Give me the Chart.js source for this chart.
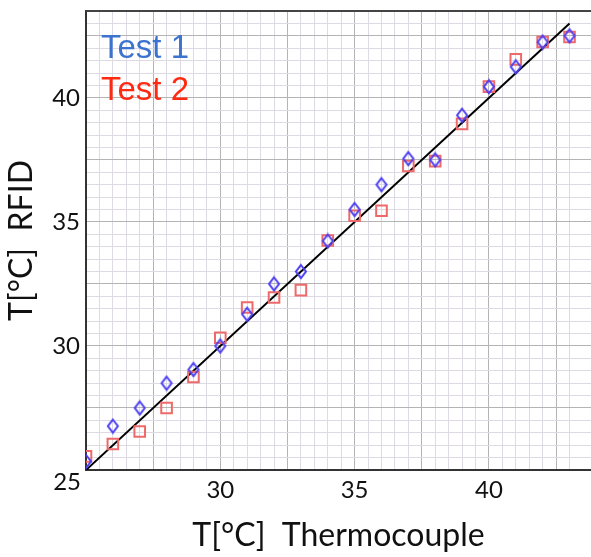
<!DOCTYPE html>
<html>
<head>
<meta charset="utf-8">
<script src="https://cdn.jsdelivr.net/npm/chart.js@4.4.1/dist/chart.umd.min.js"></script>
<style>
  html, body { margin: 0; padding: 0; background: #fff; overflow: hidden; }
  #wrap { width: 591px; height: 557px; position: relative; }
</style>
</head>
<body>
<div id="wrap"><canvas id="chart"></canvas></div>
<script>
// thermocouple readings (x) and RFID readings (y)
const thermocouple = [25, 26, 27, 28, 29, 30, 31, 32, 33, 34, 35, 36, 37, 38, 39, 40, 41, 42, 43];
const test1 = [25.35, 26.77, 27.5, 28.5, 29.05, 30.0, 31.28, 32.5, 33.0, 34.23, 35.5, 36.5, 37.55, 37.5, 39.3, 40.45, 41.25, 42.25, 42.5];
const test2 = [25.55, 26.05, 26.55, 27.5, 28.75, 30.33, 31.55, 31.95, 32.25, 34.25, 35.25, 35.45, 37.25, 37.45, 38.95, 40.45, 41.55, 42.25, 42.45];
const seriesNames = ['Test 1', 'Test 2'];
const idealLine = [25, 43];
const tickLabels = [25, 30, 35, 40];

const tickFont = { family: 'Lato', size: 24 };
const titleFont = { family: 'Lato', size: 32 };

function diamond(w, h, color) {
  const c = document.createElement('canvas');
  c.width = w + 4; c.height = h + 4;
  const g = c.getContext('2d');
  g.strokeStyle = color;
  g.lineWidth = 2;
  g.beginPath();
  g.moveTo(c.width / 2, 2);
  g.lineTo(c.width - 2, c.height / 2);
  g.lineTo(c.width / 2, c.height - 2);
  g.lineTo(2, c.height / 2);
  g.closePath();
  g.stroke();
  return c;
}

const pts = (ys) => thermocouple.map((x, i) => ({x: x, y: ys[i]}));

function isMult(v, m) {
  const r = v / m;
  return Math.abs(r - Math.round(r)) < 1e-6;
}

const gridColor = (ctx) => {
  const v = ctx.tick ? ctx.tick.value : 0;
  return isMult(v, 2.5) ? '#b4b4b4' : '#dedae3';
};

const overlay = {
  id: 'overlay',
  afterDraw(chart) {
    const c = chart.ctx;
    const a = chart.chartArea;
    c.save();
    // top frame line
    c.strokeStyle = '#444';
    c.lineWidth = 2;
    c.beginPath();
    c.moveTo(a.left, a.top);
    c.lineTo(a.right, a.top);
    c.stroke();
    // legend inside plot
    c.font = '33px "Liberation Sans", Arial, sans-serif';
    c.textBaseline = 'alphabetic';
    c.textAlign = 'left';
    const cols = ['#3b73cf', '#ff2a12'];
    seriesNames.forEach((n, i) => {
      c.fillStyle = cols[i];
      c.fillText(n, 101, 58 + i * 42);
    });
    // shared corner label
    c.font = '24px Lato';
    c.fillStyle = '#111';
    c.textAlign = 'right';
    c.textBaseline = 'middle';
    c.fillText(String(tickLabels[0]), a.left - 5, a.bottom + 12);
    c.restore();
  }
};

new Chart(document.getElementById('chart'), {
  type: 'scatter',
  data: {
    datasets: [
      {
        label: seriesNames[0],
        data: pts(test1),
        pointStyle: diamond(10, 13, '#4c3ff2'),
        borderColor: '#4c3ff2'
      },
      {
        label: seriesNames[1],
        data: pts(test2),
        pointStyle: 'rect',
        pointRadius: 7.5,
        borderWidth: 2,
        borderColor: '#ee6a6a',
        backgroundColor: 'rgba(0,0,0,0)'
      },
      {
        label: 'y = x',
        data: idealLine.map(v => ({x: v, y: v})),
        showLine: true,
        borderColor: '#000',
        borderWidth: 2,
        pointRadius: 0
      }
    ]
  },
  options: {
    responsive: true,
    maintainAspectRatio: false,
    animation: false,
    layout: { autoPadding: false, padding: { top: 11, right: 0, left: 0, bottom: 0 } },
    plugins: { legend: { display: false }, tooltip: { enabled: false } },
    scales: {
      x: {
        min: 25, max: 43.8,
        afterFit: (s) => { s.height = 87; s.paddingLeft = 0; s.paddingRight = 0; },
        border: { color: '#333', width: 2 },
        grid: { color: gridColor, lineWidth: 1, drawTicks: false },
        ticks: {
          stepSize: 0.5, autoSkip: false, maxRotation: 0, padding: 6,
          font: tickFont, color: '#111',
          callback: (v) => (v !== tickLabels[0] && tickLabels.includes(v)) ? String(v) : ''
        },
        title: { display: true, text: 'T[°C]  Thermocouple', font: titleFont, color: '#111', padding: { top: 4, bottom: 2 } }
      },
      y: {
        min: 25, max: 43.5,
        afterFit: (s) => { s.width = 86; s.paddingTop = 0; s.paddingBottom = 0; },
        border: { color: '#333', width: 2 },
        grid: {
          color: (ctx) => (ctx.tick && Math.abs(ctx.tick.value - 43.5) < 1e-6) ? '#444' : gridColor(ctx),
          lineWidth: 1, drawTicks: false
        },
        ticks: {
          stepSize: 0.5, autoSkip: false, padding: 6,
          font: tickFont, color: '#111',
          callback: (v) => (v !== tickLabels[0] && tickLabels.includes(v)) ? String(v) : ''
        },
        title: { display: true, text: 'T[°C]  RFID', font: titleFont, color: '#111', padding: { top: 2, bottom: 4 } }
      }
    }
  },
  plugins: [overlay]
});
</script>
</body>
</html>
